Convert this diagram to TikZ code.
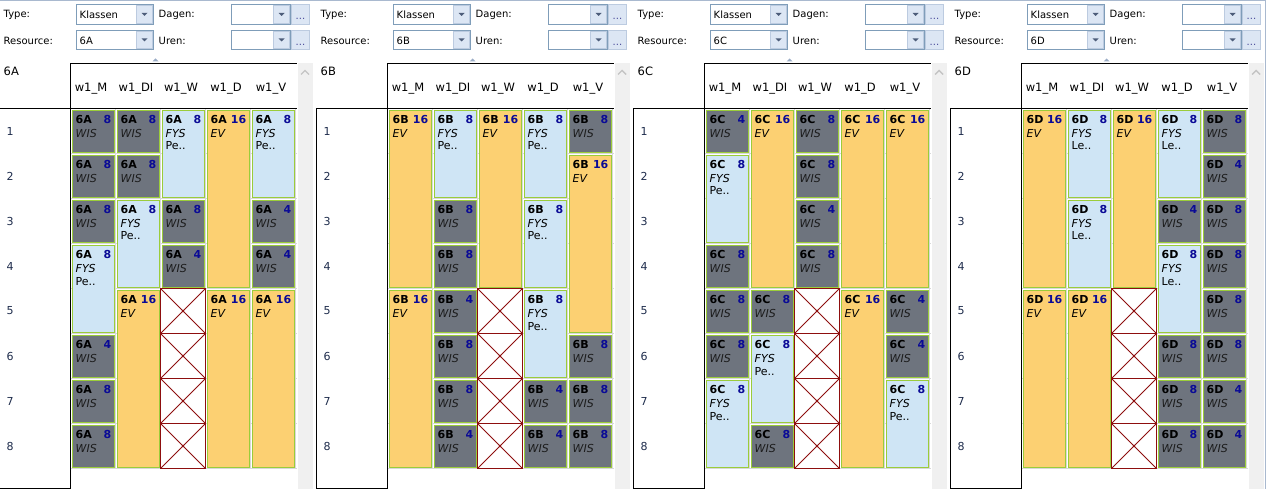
\documentclass[tikz,border=0pt]{standalone}
\usepackage{fontspec}
\setmainfont{DejaVu Sans}
\definecolor{blkgray}{HTML}{6E747E}
\definecolor{blkblue}{HTML}{CFE5F5}
\definecolor{blkorange}{HTML}{FCD072}
\definecolor{blkgreen}{HTML}{9BCC3A}
\definecolor{numblue}{HTML}{0A0A96}
\definecolor{xred}{HTML}{8E0E0E}
\definecolor{gridgray}{HTML}{D8D8D8}
\definecolor{cmbborder}{HTML}{7F9DB9}
\definecolor{btnfill}{HTML}{DCE6F4}
\definecolor{btnborder}{HTML}{BCCBE0}
\definecolor{arrowgray}{HTML}{4D5D7A}
\definecolor{scrollbg}{HTML}{F0F0F0}
\definecolor{chevron}{HTML}{C4C4C4}
\definecolor{rownum}{HTML}{1E2C4C}
\definecolor{topline}{HTML}{A9B9CF}
\definecolor{wistext}{HTML}{1C1C1C}
\definecolor{uptri}{HTML}{9AACC6}
\definecolor{dotblue}{HTML}{4A4A9A}
\tikzset{
  blockline/.style={draw=blkgreen,line width=1pt},
  idt/.style={inner sep=0pt,anchor=base west,text=black,font=\fontsize{11}{12}\selectfont\bfseries},
  numt/.style={inner sep=0pt,anchor=base east,text=numblue,font=\fontsize{11}{12}\selectfont\bfseries},
  subt/.style={inner sep=0pt,anchor=base west,text=black,font=\fontsize{11}{12}\selectfont\itshape},
  teat/.style={inner sep=0pt,anchor=base west,text=black,font=\fontsize{11}{12}\selectfont},
  xline/.style={draw=xred,line width=1pt},
  xdiag/.style={draw=xred,line width=0.8pt},
  gridl/.style={draw=gridgray,line width=1pt},
  boxl/.style={draw=black,line width=1pt},
  uilabel/.style={inner sep=0pt,anchor=west,text=black,font=\fontsize{10}{12}\selectfont},
  hdr/.style={inner sep=0pt,anchor=base,text=black,font=\fontsize{11.5}{13}\selectfont},
  rowl/.style={inner sep=0pt,anchor=west,text=rownum,font=\fontsize{11}{13}\selectfont},
  ttl/.style={inner sep=0pt,anchor=base west,text=black,font=\fontsize{11.5}{13}\selectfont},
  cmb/.style={draw=cmbborder,fill=white,line width=1pt},
  btn/.style={draw=btnborder,fill=btnfill,line width=1pt},
  dots/.style={inner sep=0pt,anchor=base,text=dotblue,font=\fontsize{10}{12}\selectfont},
}
% block base: k col r1 r2 fill id num
\newcommand\blkbase[7]{%
  \pgfmathsetmacro\cbx{317*#1+72+45*#2}%
  \pgfmathsetmacro\cby{110+45*(#3-1)}%
  \pgfmathsetmacro\cbb{107+45*(#4)}%
  \draw[blockline,fill=#5] (\cbx,\cby) rectangle ({\cbx+42},\cbb);
  \node[idt] (i-#1-#2-#3) at ({\cbx+3},{\cby+12.7}) {#6};
  \node[numt] (n-#1-#2-#3) at ({\cbx+39},{\cby+12.7}) {#7};
}
\newcommand\blkwis[5]{%
  \blkbase{#1}{#2}{#3}{#3}{blkgray}{#4}{#5}%
  \node[subt,text=wistext] (s-#1-#2-#3) at ({\cbx+3},{\cby+27}) {WIS};
}
\newcommand\blkfys[5]{%
  \blkbase{#1}{#2}{#3}{#3+1}{blkblue}{#4}{8}%
  \node[subt] (s-#1-#2-#3) at ({\cbx+3},{\cby+27}) {FYS};
  \node[teat] (t-#1-#2-#3) at ({\cbx+3},{\cby+39.5}) {#5};
}
\newcommand\blkev[4]{%
  \blkbase{#1}{#2}{#3}{#3+3}{blkorange}{#4}{16}%
  \node[subt] (s-#1-#2-#3) at ({\cbx+3},{\cby+27}) {EV};
}
\newcommand\xcell[3]{%
  \pgfmathsetmacro\cbx{317*#1+70+45*#2}%
  \pgfmathsetmacro\cby{108+45*(#3-1)}%
  \draw[xline,fill=white] (\cbx,\cby) rectangle ({\cbx+45},{\cby+45});
  \draw[xdiag] (\cbx,\cby) -- ({\cbx+45},{\cby+45}) ({\cbx+45},\cby) -- (\cbx,{\cby+45});
  \fill[xred] ({\cbx+22.5},{\cby+22.5}) circle (1.3);
}
\newcommand\combo[4]{%
  \draw[cmb] ({#1},{#2}) rectangle ({#3},{#4});
  \draw[btn] ({#3-17},{#2+1}) rectangle ({#3-1},{#4-1});
  \fill[arrowgray] ({#3-12},{(#2+#4)/2-1.5}) -- ({#3-6},{(#2+#4)/2-1.5}) -- ({#3-9},{(#2+#4)/2+1.5}) -- cycle;
}
\begin{document}
\begin{tikzpicture}[x=1pt,y=-1pt]
\useasboundingbox (0,0) rectangle (1266,489);
\fill[white] (0,0) rectangle (1266,489);
\begin{scope}[shift={(0.5,0.5)}]
\draw[topline,line width=1pt] (-0.5,0) -- (1266,0);
\foreach \k/\nm in {0/A,1/B,2/C,3/D}{
  \pgfmathsetmacro\px{317*\k}
  % controls
  \node[uilabel] (type\k) at ({\px+3},14.5) {Type:};
  \node[uilabel] (res\k) at ({\px+3},40.5) {Resource:};
  \node[uilabel] (dag\k) at ({\px+158},14.5) {Dagen:};
  \node[uilabel] (uren\k) at ({\px+158},40.5) {Uren:};
  \combo{\px+76}{4}{\px+153}{24}
  \combo{\px+76}{30}{\px+153}{49}
  \combo{\px+231}{4}{\px+290}{24}
  \combo{\px+231}{30}{\px+290}{49}
  \node[uilabel] (kl\k) at ({\px+79},14.5) {Klassen};
  \node[uilabel] (rv\k) at ({\px+79},40.5) {6\nm};
  \draw[btn] ({\px+291},4) rectangle ({\px+309},24);
  \draw[btn] ({\px+291},30) rectangle ({\px+309},49);
  \node[dots] (d1\k) at ({\px+300},19) {...};
  \node[dots] (d2\k) at ({\px+300},45) {...};
  \fill[uptri] ({\px+152},61) -- ({\px+158},61) -- ({\px+155},58) -- cycle;
  % scrollbar
  \fill[scrollbg] ({\px+297},63) rectangle ({\px+312},489);
  \draw[chevron,line width=1.4pt] ({\px+300.5},74) -- ({\px+304.5},70) -- ({\px+308.5},74);
  % title
  \node[ttl] (ttl\k) at ({\px+3},75) {6\nm};
  % headers
  \foreach \h [count=\i from 0] in {w1\_M,w1\_DI,w1\_W,w1\_D,w1\_V}
    \node[hdr] (h-\k-\i) at ({\px+70+45*\i+20.5},91) {\h};
  % grid
  \foreach \i in {1,...,5}
    \draw[gridl] ({\px+70+45*\i},108) -- ({\px+70+45*\i},468);
  \foreach \j in {1,...,8}
    \draw[gridl] ({\px+70},{108+45*\j}) -- ({\px+296},{108+45*\j});
  % row labels
  \foreach \r in {1,...,8}
    \node[rowl] (r-\k-\r) at ({\px+6},{108+45*\r-22.5}) {\r};
  % boxes
  \draw[boxl] ({\px+70},108) -- ({\px+70},63) -- ({\px+296},63);
  \draw[boxl] ({\px-1},108) -- ({\px+296},108);
  \draw[boxl] ({\px+70},108) -- ({\px+70},488) -- ({\px-1},488) -- ({\px-1},108);
}
\draw[topline,line width=1pt] (1265,0) -- (1265,489);
% ---------- Panel 6A ----------
\blkwis{0}{0}{1}{6A}{8}
\blkwis{0}{0}{2}{6A}{8}
\blkwis{0}{0}{3}{6A}{8}
\blkfys{0}{0}{4}{6A}{Pe..}
\blkwis{0}{0}{6}{6A}{4}
\blkwis{0}{0}{7}{6A}{8}
\blkwis{0}{0}{8}{6A}{8}
\blkwis{0}{1}{1}{6A}{8}
\blkwis{0}{1}{2}{6A}{8}
\blkfys{0}{1}{3}{6A}{Pe..}
\blkev{0}{1}{5}{6A}
\blkfys{0}{2}{1}{6A}{Pe..}
\blkwis{0}{2}{3}{6A}{8}
\blkwis{0}{2}{4}{6A}{4}
\xcell{0}{2}{5}\xcell{0}{2}{6}\xcell{0}{2}{7}\xcell{0}{2}{8}
\blkev{0}{3}{1}{6A}
\blkev{0}{3}{5}{6A}
\blkfys{0}{4}{1}{6A}{Pe..}
\blkwis{0}{4}{3}{6A}{4}
\blkwis{0}{4}{4}{6A}{4}
\blkev{0}{4}{5}{6A}
% ---------- Panel 6B ----------
\blkev{1}{0}{1}{6B}
\blkev{1}{0}{5}{6B}
\blkfys{1}{1}{1}{6B}{Pe..}
\blkwis{1}{1}{3}{6B}{8}
\blkwis{1}{1}{4}{6B}{8}
\blkwis{1}{1}{5}{6B}{4}
\blkwis{1}{1}{6}{6B}{8}
\blkwis{1}{1}{7}{6B}{8}
\blkwis{1}{1}{8}{6B}{4}
\blkev{1}{2}{1}{6B}
\xcell{1}{2}{5}\xcell{1}{2}{6}\xcell{1}{2}{7}\xcell{1}{2}{8}
\blkfys{1}{3}{1}{6B}{Pe..}
\blkfys{1}{3}{3}{6B}{Pe..}
\blkfys{1}{3}{5}{6B}{Pe..}
\blkwis{1}{3}{7}{6B}{4}
\blkwis{1}{3}{8}{6B}{4}
\blkwis{1}{4}{1}{6B}{8}
\blkev{1}{4}{2}{6B}
\blkwis{1}{4}{6}{6B}{8}
\blkwis{1}{4}{7}{6B}{8}
\blkwis{1}{4}{8}{6B}{8}
% ---------- Panel 6C ----------
\blkwis{2}{0}{1}{6C}{4}
\blkfys{2}{0}{2}{6C}{Pe..}
\blkwis{2}{0}{4}{6C}{8}
\blkwis{2}{0}{5}{6C}{8}
\blkwis{2}{0}{6}{6C}{8}
\blkfys{2}{0}{7}{6C}{Pe..}
\blkev{2}{1}{1}{6C}
\blkwis{2}{1}{5}{6C}{8}
\blkfys{2}{1}{6}{6C}{Pe..}
\blkwis{2}{1}{8}{6C}{8}
\blkwis{2}{2}{1}{6C}{8}
\blkwis{2}{2}{2}{6C}{8}
\blkwis{2}{2}{3}{6C}{4}
\blkwis{2}{2}{4}{6C}{8}
\xcell{2}{2}{5}\xcell{2}{2}{6}\xcell{2}{2}{7}\xcell{2}{2}{8}
\blkev{2}{3}{1}{6C}
\blkev{2}{3}{5}{6C}
\blkev{2}{4}{1}{6C}
\blkwis{2}{4}{5}{6C}{4}
\blkwis{2}{4}{6}{6C}{4}
\blkfys{2}{4}{7}{6C}{Pe..}
% ---------- Panel 6D ----------
\blkev{3}{0}{1}{6D}
\blkev{3}{0}{5}{6D}
\blkfys{3}{1}{1}{6D}{Le..}
\blkfys{3}{1}{3}{6D}{Le..}
\blkev{3}{1}{5}{6D}
\blkev{3}{2}{1}{6D}
\xcell{3}{2}{5}\xcell{3}{2}{6}\xcell{3}{2}{7}\xcell{3}{2}{8}
\blkfys{3}{3}{1}{6D}{Le..}
\blkwis{3}{3}{3}{6D}{4}
\blkfys{3}{3}{4}{6D}{Le..}
\blkwis{3}{3}{6}{6D}{8}
\blkwis{3}{3}{7}{6D}{8}
\blkwis{3}{3}{8}{6D}{8}
\blkwis{3}{4}{1}{6D}{8}
\blkwis{3}{4}{2}{6D}{4}
\blkwis{3}{4}{3}{6D}{8}
\blkwis{3}{4}{4}{6D}{8}
\blkwis{3}{4}{5}{6D}{8}
\blkwis{3}{4}{6}{6D}{8}
\blkwis{3}{4}{7}{6D}{4}
\blkwis{3}{4}{8}{6D}{4}
\end{scope}
\end{tikzpicture}
\end{document}
